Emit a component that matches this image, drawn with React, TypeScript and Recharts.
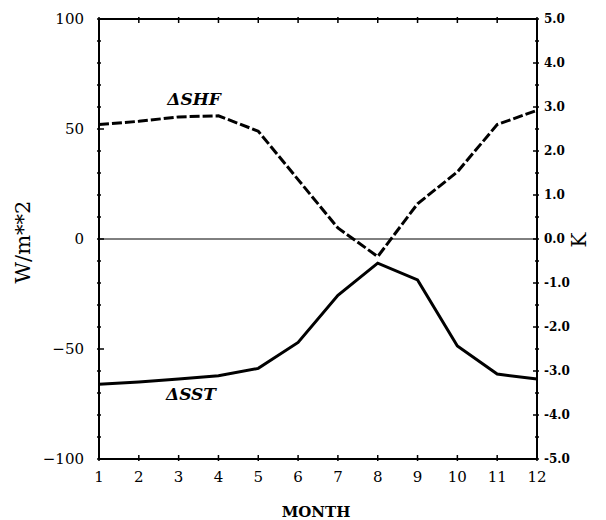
import React from 'react';
import { LineChart, Line, XAxis, YAxis, ReferenceLine } from 'recharts';

const months = [1, 2, 3, 4, 5, 6, 7, 8, 9, 10, 11, 12];
const shfValues = [52, 53.5, 55.5, 56, 49, 27, 5, -8, 16, 30.5, 52, 58.5]; // W/m**2, left axis
const sstValues = [-3.3, -3.25, -3.18, -3.11, -2.94, -2.35, -1.28, -0.55, -0.93, -2.43, -3.07, -3.18]; // K, right axis

const leftTicks = [-100, -90, -80, -70, -60, -50, -40, -30, -20, -10, 0, 10, 20, 30, 40, 50, 60, 70, 80, 90, 100];
const rightTicks = [-5, -4.5, -4, -3.5, -3, -2.5, -2, -1.5, -1, -0.5, 0, 0.5, 1, 1.5, 2, 2.5, 3, 3.5, 4, 4.5, 5];

const FONT = '"DejaVu Serif", serif';

const LeftTick = (props: any) => {
  const { x, y, payload } = props;
  const v = payload.value as number;
  const major = v % 50 === 0;
  return (
    <g>
      <line x1={x} x2={x + (major ? 7 : 4)} y1={y} y2={y} stroke="#000" strokeWidth={1.5} />
      {major && (
        <text x={x - 13} y={y} dy="0.36em" textAnchor="end" fontFamily={FONT} fontSize={15} fill="#000">
          {v < 0 ? `\u2212${Math.abs(v)}` : String(v)}
        </text>
      )}
    </g>
  );
};

const RightTick = (props: any) => {
  const { x, y, payload } = props;
  const v = payload.value as number;
  const major = Number.isInteger(v);
  return (
    <g>
      <line x1={x - (major ? 6 : 4)} x2={x} y1={y} y2={y} stroke="#000" strokeWidth={1.5} />
      {major && (
        <text x={x + 5} y={y} dy="0.36em" textAnchor="start" fontFamily={FONT} fontWeight="bold" fontSize={12} fill="#000">
          {v.toFixed(1)}
        </text>
      )}
    </g>
  );
};

const BottomTick = (props: any) => {
  const { x, y, payload } = props;
  return (
    <g>
      <line x1={x} x2={x} y1={y} y2={y - 6} stroke="#000" strokeWidth={1.5} />
      <text x={x} y={y + 21} textAnchor="middle" fontFamily={FONT} fontSize={15} fill="#000">
        {payload.value}
      </text>
    </g>
  );
};

const TopTick = (props: any) => {
  const { x, y } = props;
  return <line x1={x} x2={x} y1={y} y2={y + 6} stroke="#000" strokeWidth={1.5} />;
};

export default function App() {
  const data = months.map((m, i) => ({ month: m, shf: shfValues[i], sst: sstValues[i] }));

  return (
    <LineChart width={598} height={512} data={data} margin={{ top: 10, right: 19, bottom: 21, left: 31 }}>
      <XAxis
        dataKey="month"
        type="number"
        domain={[1, 12]}
        ticks={months}
        interval={0}
        tickSize={0}
        tickLine={false}
        tick={<BottomTick />}
        height={40}
        axisLine={{ stroke: '#000', strokeWidth: 2 }}
      />
      <XAxis
        xAxisId="top"
        orientation="top"
        dataKey="month"
        type="number"
        domain={[1, 12]}
        ticks={months}
        interval={0}
        tickSize={0}
        tickLine={false}
        tick={<TopTick />}
        height={1}
        axisLine={{ stroke: '#000', strokeWidth: 2 }}
      />
      <YAxis
        yAxisId="left"
        type="number"
        domain={[-100, 100]}
        ticks={leftTicks}
        interval={0}
        tickSize={0}
        tickLine={false}
        tick={<LeftTick />}
        width={60}
        axisLine={{ stroke: '#000', strokeWidth: 2 }}
      />
      <YAxis
        yAxisId="right"
        orientation="right"
        type="number"
        domain={[-5, 5]}
        ticks={rightTicks}
        interval={0}
        tickSize={0}
        tickLine={false}
        tick={<RightTick />}
        width={50}
        axisLine={{ stroke: '#000', strokeWidth: 2 }}
      />
      <ReferenceLine y={0} yAxisId="left" stroke="#000" strokeWidth={1} />
      <Line
        yAxisId="left"
        type="linear"
        dataKey="shf"
        stroke="#000"
        strokeWidth={3}
        strokeDasharray="10 3"
        dot={false}
        isAnimationActive={false}
      />
      <Line
        yAxisId="right"
        type="linear"
        dataKey="sst"
        stroke="#000"
        strokeWidth={3}
        dot={false}
        isAnimationActive={false}
      />
      <text x={186} y={97} textAnchor="middle" fontFamily={FONT} fontStyle="italic" fontWeight="bold" fontSize={17} fill="#000">
        ΔSHF
      </text>
      <text x={183} y={392} textAnchor="middle" fontFamily={FONT} fontStyle="italic" fontWeight="bold" fontSize={17} fill="#000">
        ΔSST
      </text>
      <text x={15} y={234} transform="rotate(-90 15 234)" textAnchor="middle" dominantBaseline="central" fontFamily={FONT} fontSize={21} fill="#000">
        W/m**2
      </text>
      <text x={571} y={232} transform="rotate(-90 571 232)" textAnchor="middle" dominantBaseline="central" fontFamily={FONT} fontSize={20} fill="#000">
        K
      </text>
      <text x={308} y={509} textAnchor="middle" fontFamily={FONT} fontWeight="bold" fontSize={15} fill="#000">
        MONTH
      </text>
    </LineChart>
  );
}
